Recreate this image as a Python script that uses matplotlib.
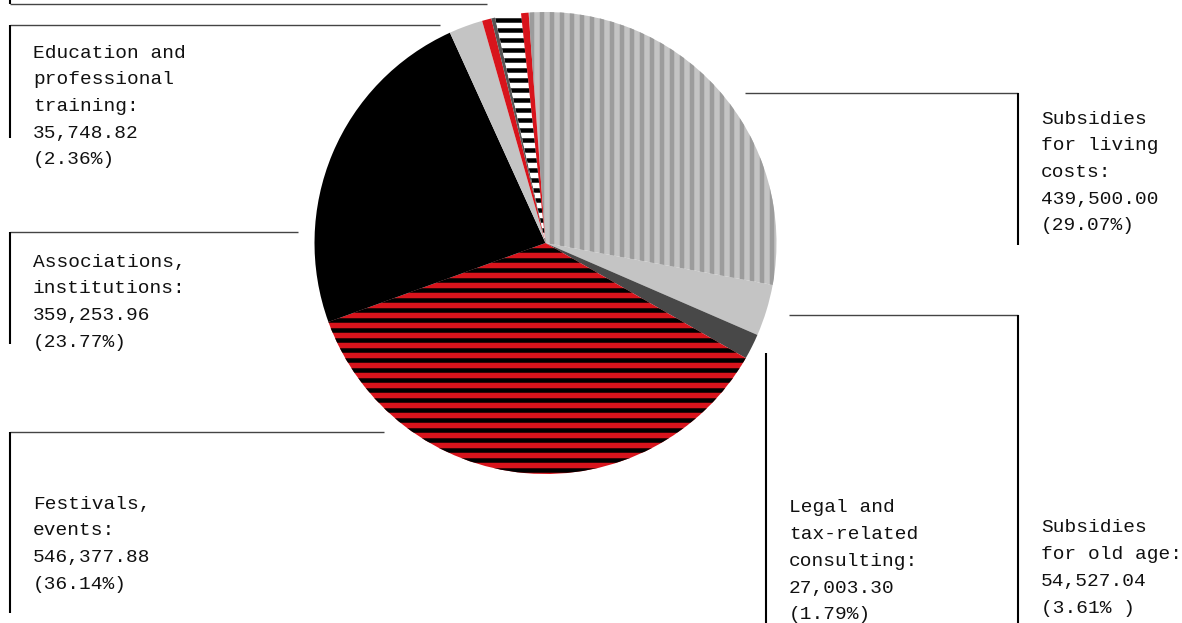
import matplotlib
matplotlib.use("Agg")
import matplotlib.pyplot as plt
import numpy as np

W, H = 1182, 623

# slices, clockwise from the top
categories = ["Subsidies\nfor living\ncosts:", "Subsidies\nfor old age:",
              "Legal and\ntax-related\nconsulting:", "Festivals,\nevents:",
              "Associations,\ninstitutions:", "Education and\nprofessional\ntraining:",
              None, None, None, None]
values = [439500.00, 54527.04, 27003.30, 546377.88, 359253.96, 35748.82,
          9930.0, 4060.0, 27330.0, 7929.0]
pct_labels = ["(29.07%)", "(3.61% )", "(1.79%)", "(36.14%)", "(23.77%)", "(2.36%)",
              None, None, None, None]
colors = ["#c4c4c4", "#c4c4c4", "#484848", "#d8141c", "#000000", "#c4c4c4",
          "#d8141c", "#555555", "#ffffff", "#d8141c"]

plt.rcParams['font.family'] = ['Liberation Mono', 'DejaVu Sans Mono']

fig = plt.figure(figsize=(W / 100, H / 100), dpi=100)
ax = fig.add_axes([0, 0, 1, 1])

cx, cy, r = 545.5, H - 243, 231
wedges, _ = ax.pie(values, colors=colors, startangle=94.2, counterclock=False,
                   center=(cx, cy), radius=r, wedgeprops=dict(linewidth=0))


def stripes(wedge, horizontal, color, width_px, period=10, offset=0):
    if horizontal:
        pos = np.arange(offset, H, period)
        lc = ax.hlines(pos, 0, W, colors=color, linewidth=width_px * 0.72)
    else:
        pos = np.arange(offset, W, period)
        lc = ax.vlines(pos, 0, H, colors=color, linewidth=width_px * 0.72)
    lc.set_snap(False)
    lc.set_clip_path(wedge)


stripes(wedges[0], False, "#9c9c9c", 4.5, offset=2)     # living costs
stripes(wedges[3], True, "#000000", 4.5, offset=2.5)    # festivals
stripes(wedges[8], True, "#000000", 4.5, offset=2.5)    # small striped slice


def fmt(v):
    return f"{v:,.2f}"


# label boxes: (slice index, text x, first line y, horizontal line, vertical line) in pixels from top
label_pos = {
    0: (1041, 119, (745, 1018, 93), (1018, 93, 245)),
    1: (1041, 528, (789, 1018, 315), (1018, 315, 630)),
    2: (789, 508, None, (766, 353, 630)),
    3: (33, 504, (10, 384, 432), (10, 432, 613)),
    4: (33, 262, (10, 298, 232), (10, 232, 344)),
    5: (33, 53, (10, 440, 25), (10, 25, 138)),
}
line_step = 26.7

for i, (tx, ty, hl, vl) in label_pos.items():
    lines = categories[i].split("\n") + [fmt(values[i]), pct_labels[i]]
    for k, s in enumerate(lines):
        ax.text(tx, H - (ty + k * line_step), s, fontsize=14, color="#111111",
                ha="left", va="center")
    if hl:
        ax.plot([hl[0], hl[1]], [H - hl[2], H - hl[2]], color="#444444", lw=1.0,
                solid_capstyle="butt")
    ax.plot([vl[0], vl[0]], [H - vl[1], H - vl[2]], color="#000000", lw=1.5,
            solid_capstyle="butt")

# leader of the label above the canvas
ax.plot([10, 487], [H - 4, H - 4], color="#444444", lw=1.0, solid_capstyle="butt")
ax.plot([10, 10], [H - 4, H + 10], color="#000000", lw=1.5, solid_capstyle="butt")

ax.set_xlim(0, W)
ax.set_ylim(0, H)
ax.set_aspect("equal")
ax.axis("off")

fig.savefig("out.png", dpi=100, facecolor="white")
